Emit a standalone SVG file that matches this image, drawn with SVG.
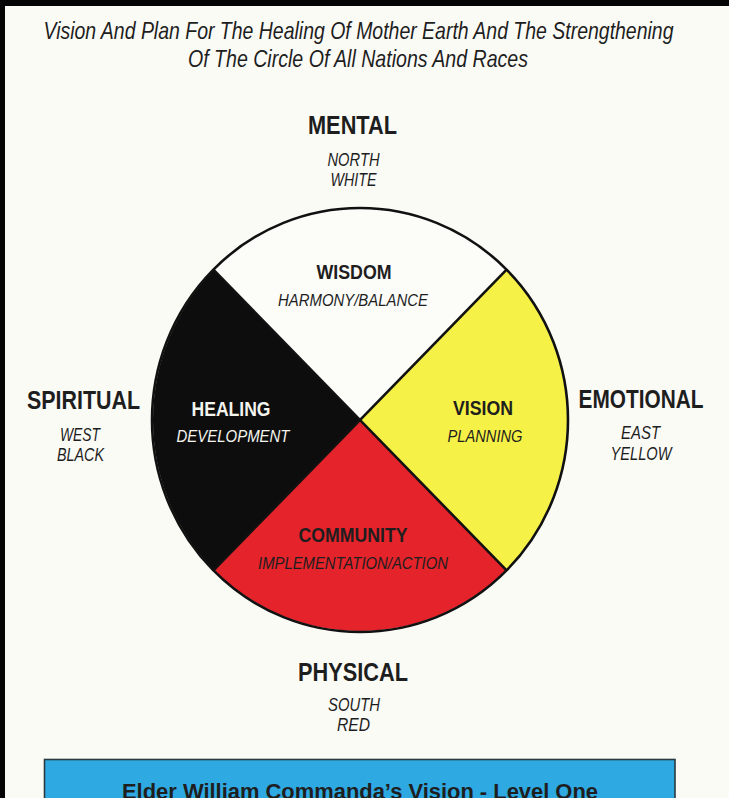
<svg xmlns="http://www.w3.org/2000/svg" width="729" height="798" viewBox="0 0 729 798">
<style>
text{font-family:"Liberation Sans Narrow","Liberation Sans",Arial,sans-serif;fill:#1e1e1e;text-anchor:middle}
.title{font-size:24px;font-style:italic}
.dir{font-size:25px;font-weight:bold}
.sub{font-size:18px;font-style:italic}
.in{font-size:20px;font-weight:bold}
.ini{font-size:17px;font-style:italic}
.w{fill:#f4f4ee}
.rim{fill:none;stroke:#111;stroke-width:2.6}
</style>
<rect x="0" y="0" width="729" height="798" fill="#fbfbf6"/>
<rect x="0" y="0" width="729" height="6" fill="#050505"/>
<rect x="0" y="0" width="5" height="798" fill="#050505"/>

<g id="title">
<text class="title" x="358.5" y="38.5" textLength="630" lengthAdjust="spacingAndGlyphs">Vision And Plan For The Healing Of Mother Earth And The Strengthening</text>
<text class="title" x="358" y="66.5" textLength="340" lengthAdjust="spacingAndGlyphs">Of The Circle Of All Nations And Races</text>
</g>

<g id="wheel">
<g id="north-wisdom">
<path d="M360,420 L213.9,270.1 A208,212 0 0 1 506.1,270.1 Z" fill="#fcfcf9"/>
<text class="in" x="354" y="279" textLength="75" lengthAdjust="spacingAndGlyphs">WISDOM</text>
<text class="ini" x="353" y="306" textLength="150" lengthAdjust="spacingAndGlyphs">HARMONY/BALANCE</text>
</g>
<g id="east-vision">
<path d="M360,420 L506.1,270.1 A208,212 0 0 1 506.1,569.9 Z" fill="#f6f146"/>
<text class="in" x="483" y="415" textLength="60" lengthAdjust="spacingAndGlyphs">VISION</text>
<text class="ini" x="485" y="441.5" textLength="75" lengthAdjust="spacingAndGlyphs">PLANNING</text>
</g>
<g id="south-community">
<path d="M360,420 L506.1,569.9 A208,212 0 0 1 213.9,569.9 Z" fill="#e4232b"/>
<text class="in" x="353" y="541.5" textLength="109" lengthAdjust="spacingAndGlyphs">COMMUNITY</text>
<text class="ini" x="353" y="569" textLength="190" lengthAdjust="spacingAndGlyphs">IMPLEMENTATION/ACTION</text>
</g>
<g id="west-healing">
<path d="M360,420 L213.9,569.9 A208,212 0 0 1 213.9,270.1 Z" fill="#0d0d0d"/>
<text class="in w" x="231" y="415.5" textLength="79" lengthAdjust="spacingAndGlyphs">HEALING</text>
<text class="ini w" x="233" y="442" textLength="113" lengthAdjust="spacingAndGlyphs">DEVELOPMENT</text>
</g>
</g>

<g id="connectors">
<ellipse class="rim" cx="360" cy="420" rx="208" ry="212"/>
<line class="rim" x1="213.9" y1="270.1" x2="506.1" y2="569.9"/>
<line class="rim" x1="506.1" y1="270.1" x2="213.9" y2="569.9"/>
</g>

<g id="mental">
<text class="dir" x="352.5" y="134" textLength="89" lengthAdjust="spacingAndGlyphs">MENTAL</text>
<text class="sub" x="353.5" y="166" textLength="52" lengthAdjust="spacingAndGlyphs">NORTH</text>
<text class="sub" x="353.5" y="186" textLength="46" lengthAdjust="spacingAndGlyphs">WHITE</text>
</g>
<g id="spiritual">
<text class="dir" x="83.5" y="409" textLength="113" lengthAdjust="spacingAndGlyphs">SPIRITUAL</text>
<text class="sub" x="80" y="440.5" textLength="40" lengthAdjust="spacingAndGlyphs">WEST</text>
<text class="sub" x="80.5" y="460.5" textLength="47" lengthAdjust="spacingAndGlyphs">BLACK</text>
</g>
<g id="emotional">
<text class="dir" x="641" y="407.5" textLength="125" lengthAdjust="spacingAndGlyphs">EMOTIONAL</text>
<text class="sub" x="640.5" y="438.5" textLength="39" lengthAdjust="spacingAndGlyphs">EAST</text>
<text class="sub" x="641" y="460" textLength="61" lengthAdjust="spacingAndGlyphs">YELLOW</text>
</g>
<g id="physical">
<text class="dir" x="353" y="681" textLength="110" lengthAdjust="spacingAndGlyphs">PHYSICAL</text>
<text class="sub" x="354" y="710.5" textLength="52" lengthAdjust="spacingAndGlyphs">SOUTH</text>
<text class="sub" x="353.5" y="731" textLength="33" lengthAdjust="spacingAndGlyphs">RED</text>
</g>

<g id="banner">
<rect x="44.5" y="759.5" width="630.5" height="50" fill="#2ea9e2" stroke="#2a3a40" stroke-width="1.6"/>
<text x="360" y="799" font-size="22" font-weight="bold" textLength="476" lengthAdjust="spacingAndGlyphs">Elder William Commanda’s Vision - Level One</text>
</g>
</svg>
